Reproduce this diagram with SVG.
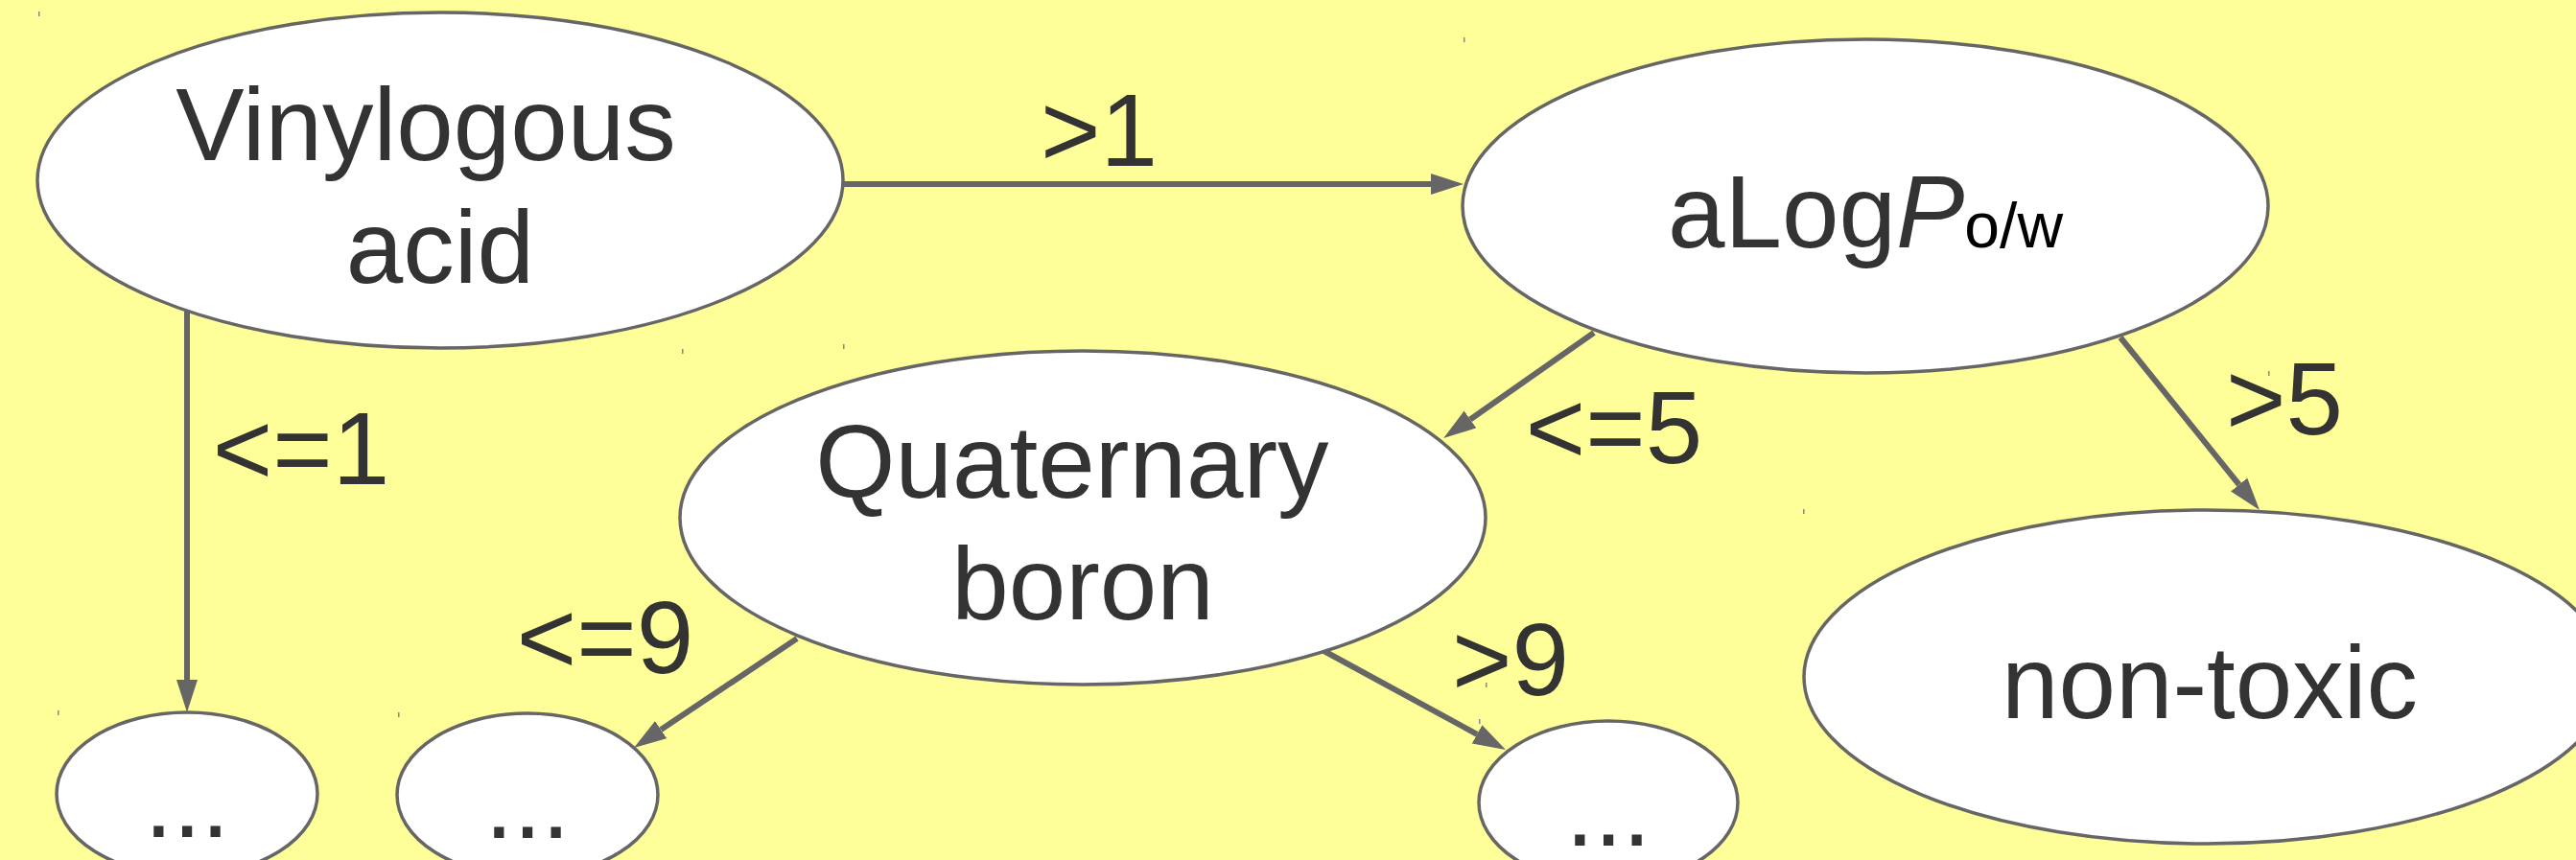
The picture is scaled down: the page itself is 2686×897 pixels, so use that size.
<svg xmlns="http://www.w3.org/2000/svg" width="2686" height="897" viewBox="0 0 2686 897">
<style>
.node ellipse{fill:#ffffff;stroke:#666666;stroke-width:3.5}
.t{font-family:"Liberation Sans",Arial,Helvetica,sans-serif;font-size:107px;fill:#333333;text-anchor:middle}
.edge{stroke:#666666;stroke-width:6;fill:none}
.tick{fill:#888888}
</style>
<defs>
<marker id="ah" markerUnits="userSpaceOnUse" markerWidth="36" markerHeight="24" refX="0" refY="11" orient="auto">
<path d="M0,0 L34,11 L0,22 Z" fill="#666666"/>
</marker>
</defs>
<rect width="2686" height="897" fill="#ffff99"/>
<g id="connectors">
<line class="edge" x1="878" y1="192" x2="1492" y2="192" marker-end="url(#ah)"/>
<line class="edge" x1="195" y1="325" x2="195" y2="709" marker-end="url(#ah)"/>
<line class="edge" x1="1662" y1="347" x2="1533" y2="437.5" marker-end="url(#ah)"/>
<line class="edge" x1="2211" y1="352" x2="2334.7" y2="505.5" marker-end="url(#ah)"/>
<line class="edge" x1="831" y1="666" x2="689.2" y2="761.1" marker-end="url(#ah)"/>
<line class="edge" x1="1375" y1="676" x2="1540.1" y2="765.8" marker-end="url(#ah)"/>
<text class="t" x="1146" y="173">&gt;1</text>
<text class="t" x="314" y="505">&lt;=1</text>
<text class="t" x="1683" y="483">&lt;=5</text>
<text class="t" x="2382" y="453">&gt;5</text>
<text class="t" x="631" y="702">&lt;=9</text>
<text class="t" x="1575" y="725">&gt;9</text>
</g>
<g id="node-vinylogous" class="node">
<ellipse cx="459" cy="188" rx="420" ry="175"/>
<text class="t" x="444" y="167">Vinylogous</text>
<text class="t" x="459" y="295">acid</text>
</g>
<g id="node-alogp" class="node">
<ellipse cx="1945" cy="215" rx="420" ry="174"/>
<text class="t" x="1945" y="258">aLog<tspan font-style="italic">P</tspan><tspan font-size="66" fill="#000000">o/w</tspan></text>
</g>
<g id="node-quaternary" class="node">
<ellipse cx="1129" cy="540" rx="420" ry="174"/>
<text class="t" x="1118" y="519">Quaternary</text>
<text class="t" x="1129" y="646">boron</text>
</g>
<g id="node-nontoxic" class="node">
<ellipse cx="2301" cy="706" rx="420" ry="174"/>
<text class="t" x="2304" y="749">non-toxic</text>
</g>
<g id="node-leaf1" class="node">
<ellipse cx="195" cy="828" rx="136" ry="85"/>
<text class="t" x="195" y="873">...</text>
</g>
<g id="node-leaf2" class="node">
<ellipse cx="550" cy="829" rx="136" ry="85"/>
<text class="t" x="550" y="874">...</text>
</g>
<g id="node-leaf3" class="node">
<ellipse cx="1677" cy="837" rx="135" ry="85"/>
<text class="t" x="1677" y="882">...</text>
</g>
<g id="ticks">
<rect class="tick" x="40" y="12" width="1.5" height="5"/>
<rect class="tick" x="1526" y="39" width="1.5" height="5"/>
<rect class="tick" x="711" y="364" width="1.5" height="5"/>
<rect class="tick" x="879" y="359" width="1.5" height="5"/>
<rect class="tick" x="60" y="741" width="1.5" height="5"/>
<rect class="tick" x="415" y="743" width="1.5" height="5"/>
<rect class="tick" x="1880" y="531" width="1.5" height="5"/>
<rect class="tick" x="1542" y="750" width="1.5" height="5"/>
<rect class="tick" x="2365" y="387" width="1.5" height="5"/>
<rect class="tick" x="1549" y="712" width="1.5" height="5"/>
</g>
</svg>
